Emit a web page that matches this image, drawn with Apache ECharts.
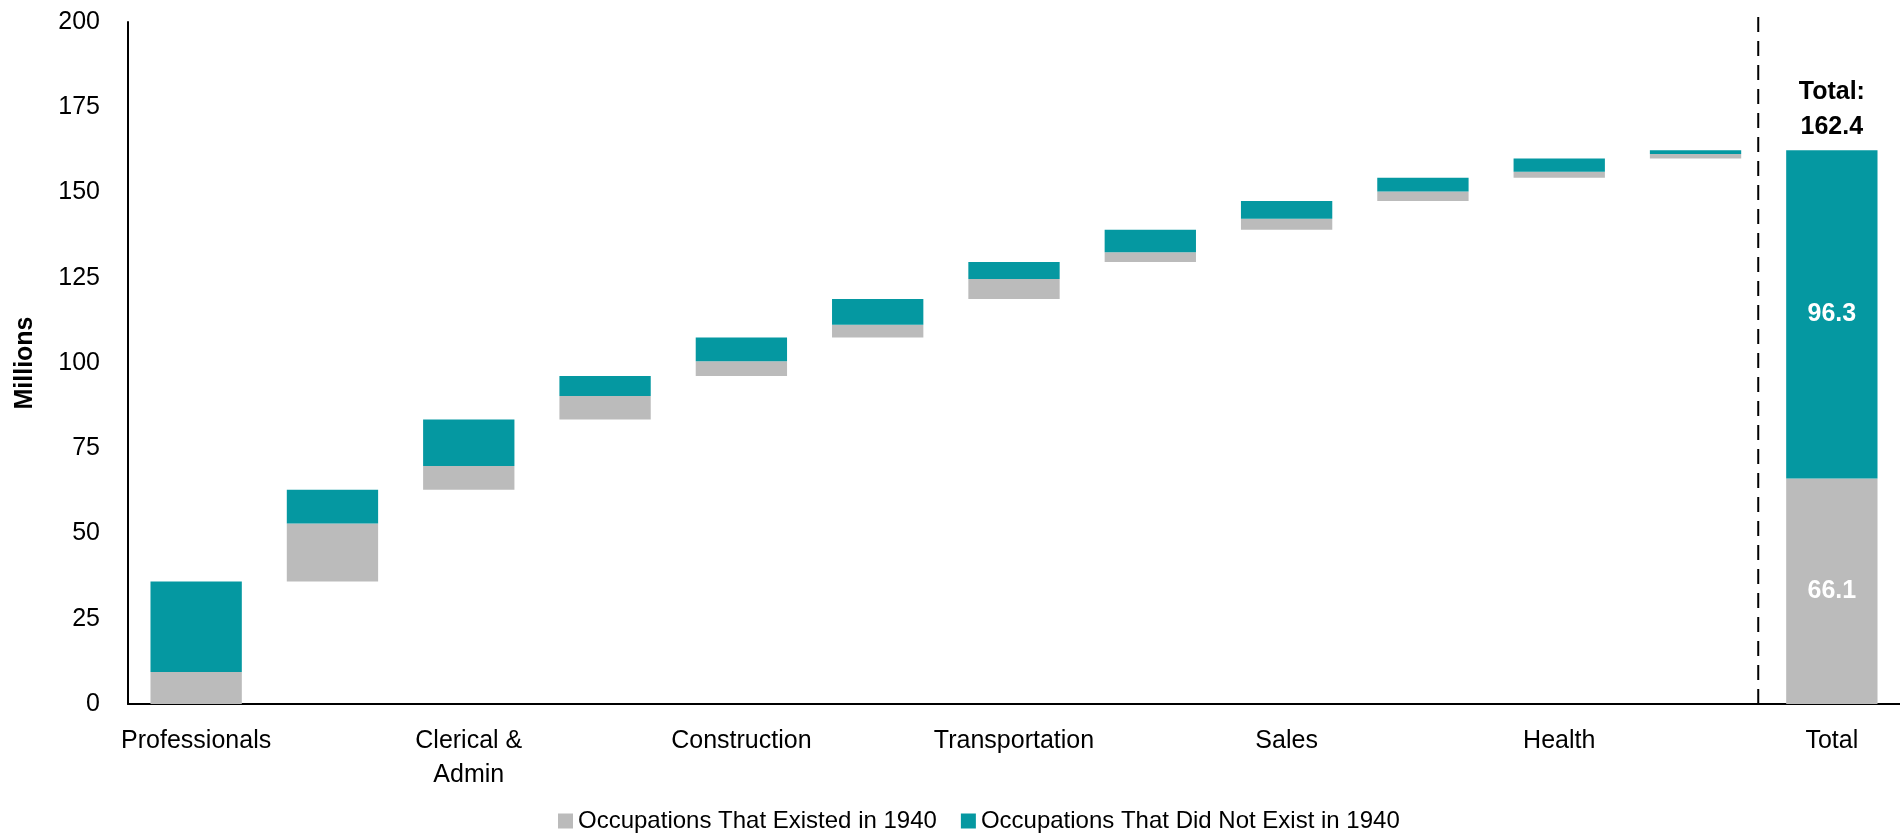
<!DOCTYPE html>
<html>
<head>
<meta charset="utf-8">
<script src="https://cdn.jsdelivr.net/npm/echarts@6/dist/echarts.min.js"></script>
<style>
  html, body { margin: 0; padding: 0; background: #ffffff; }
  #chart { width: 1900px; height: 836px; }
</style>
</head>
<body>
<div id="chart"></div>
<script>
// ---- Data ----
const categories = ['Professionals', '', 'Clerical &\nAdmin', '', 'Construction', '', 'Transportation', '', 'Sales', '', 'Health', '', 'Total'];
const existed = [9.4, 17.0, 7.0, 6.9, 4.3, 3.7, 5.8, 2.9, 3.2, 2.8, 1.8, 1.3];
const notExisted = [26.5, 9.9, 13.6, 5.9, 7.0, 7.6, 5.0, 6.6, 5.2, 4.0, 3.9, 1.1];
const totalExisted = 66.1;
const totalNotExisted = 96.3;
const yTicks = [0, 25, 50, 75, 100, 125, 150, 175, 200];
const seriesNames = ['Occupations That Existed in 1940', 'Occupations That Did Not Exist in 1940'];

// ---- Build waterfall stacks ----
const FONT = "'Liberation Sans Narrow', 'Arial Narrow', 'Liberation Sans', Arial, sans-serif";
const GRAY = '#BBBBBB';
const TEAL = '#0598A1';
const FS = 25;
const n = existed.length;
const baseData = [];
let run = 0;
for (let i = 0; i < n; i++) {
  baseData.push(run);
  run += existed[i] + notExisted[i];
}
baseData.push(0);
const totalAll = Math.round((totalExisted + totalNotExisted) * 10) / 10;

const innerLabel = { show: true, position: 'inside', color: '#ffffff', fontWeight: 'bold', fontSize: FS, fontFamily: FONT, formatter: p => p.value.toFixed(1) };
const existedData = existed.map(v => v).concat([{ value: totalExisted, label: innerLabel }]);
const notExistedData = notExisted.map(v => v).concat([{ value: totalNotExisted, label: innerLabel }]);
const capData = existed.map(() => '-').concat([{ value: 0 }]);

const chart = echarts.init(document.getElementById('chart'), null, { renderer: 'canvas' });
chart.setOption({
  animation: false,
  backgroundColor: '#ffffff',
  textStyle: { fontFamily: FONT, color: '#000000' },
  grid: { left: 128, right: 0, top: 22, bottom: 132, containLabel: false, outerBoundsMode: 'none' },
  legend: {
    data: seriesNames,
    left: 553,
    top: 804,
    itemWidth: 15,
    itemHeight: 15,
    itemGap: 24,
    icon: 'rect',
    textStyle: { fontSize: 24, fontFamily: FONT, color: '#000000' }
  },
  xAxis: [
    {
      type: 'category',
      data: categories,
      axisLine: { show: true, onZero: false, lineStyle: { color: '#000000', width: 2 } },
      axisTick: { show: false },
      axisLabel: { interval: 0, fontSize: FS, lineHeight: 34, margin: 20, color: '#000000', fontFamily: FONT },
      splitLine: { show: false }
    },
    {
      type: 'value',
      min: -0.5,
      max: categories.length - 0.5,
      show: false
    }
  ],
  yAxis: {
    type: 'value',
    min: yTicks[0],
    max: yTicks[yTicks.length - 1],
    interval: yTicks[1] - yTicks[0],
    axisLine: { show: true, onZero: false, lineStyle: { color: '#000000', width: 2 } },
    axisTick: { show: false },
    splitLine: { show: false },
    axisLabel: { fontSize: FS, margin: 28, color: '#000000', fontFamily: FONT },
    name: 'Millions',
    nameLocation: 'middle',
    nameGap: 90,
    nameTextStyle: { fontSize: FS, fontWeight: 'bold', color: '#000000', fontFamily: FONT }
  },
  series: [
    {
      name: 'base',
      type: 'bar',
      stack: 'w',
      data: baseData,
      barCategoryGap: '33%',
      itemStyle: { color: 'transparent' },
      silent: true
    },
    {
      name: seriesNames[0],
      type: 'bar',
      stack: 'w',
      data: existedData,
      barCategoryGap: '33%',
      itemStyle: { color: GRAY }
    },
    {
      name: seriesNames[1],
      type: 'bar',
      stack: 'w',
      data: notExistedData,
      barCategoryGap: '33%',
      itemStyle: { color: TEAL }
    },
    {
      name: 'cap',
      type: 'bar',
      stack: 'w',
      data: capData,
      barCategoryGap: '33%',
      itemStyle: { color: 'transparent' },
      label: {
        show: true,
        position: 'top',
        distance: 6,
        fontSize: FS,
        fontWeight: 'bold',
        lineHeight: 35,
        color: '#000000',
        fontFamily: FONT,
        formatter: () => 'Total:\n' + totalAll.toFixed(1)
      },
      silent: true
    },
    {
      name: 'divider',
      type: 'line',
      xAxisIndex: 1,
      data: [[11.46, 0], [11.46, 201.5]],
      symbol: 'none',
      clip: false,
      silent: true,
      lineStyle: { color: '#000000', width: 2, type: [15, 9] }
    }
  ]
});
</script>
</body>
</html>
